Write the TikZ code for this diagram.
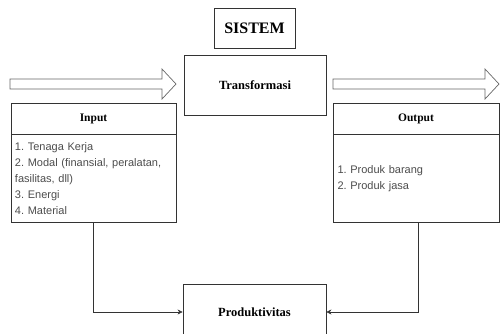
\documentclass[tikz,border=0pt]{standalone}
\usepackage{fontspec}
\setmainfont{Liberation Serif}
\setsansfont{Liberation Sans}
\usetikzlibrary{
  arrows.meta,
  positioning
}
\frenchspacing
\tikzset{
  box/.style={
    draw=black!80,
    line width=0.8pt,
    inner sep=0pt
  },
  heading/.style={
    box,
    font=\bfseries\fontsize{11.5}{13}\selectfont
  },
  listbox/.style={
    box,
    minimum width=165pt,
    minimum height=88pt,
    inner xsep=4pt,
    text width=157pt,
    align=left,
    text=black!70,
    font=\sffamily\fontsize{11}{16}\selectfont
  },
  blockarrow/.style={
    draw=black!60,
    line width=0.7pt,
    line join=miter
  },
  link/.style={
    draw=black!80,
    line width=0.6pt,
    -{Stealth[length=5pt,width=5pt]}
  }
}

\begin{document}
\begin{tikzpicture}[x=1pt,y=-1pt]
  \useasboundingbox (0,0) rectangle (501,333);
  \clip (0,0) rectangle (501,333);

  % system and process
  \node[box, minimum width=81pt, minimum height=40pt,
    font=\bfseries\fontsize{16}{18}\selectfont] (sistem) at (254.5,28) {SISTEM};
  \node[box, minimum width=142pt, minimum height=60pt,
    font=\bfseries\fontsize{12.5}{15}\selectfont] (transformasi) at (255,85) {Transformasi};

  % input side
  \node[heading, minimum width=165pt, minimum height=31pt] (inputhead) at (93.5,118.5) {Input};
  \node[listbox, below=0pt of inputhead] (inputbody) {%
    1. Tenaga Kerja\\
    2. Modal (finansial, peralatan,\\
    fasilitas, dll)\\
    3. Energi\\
    4. Material};

  % output side
  \node[heading, minimum width=166pt, minimum height=31pt] (outputhead) at (416,118.5) {Output};
  \node[listbox, minimum width=166pt, below=0pt of outputhead] (outputbody) {%
    1. Produk barang\\
    2. Produk jasa};

  % result
  \node[box, minimum width=143pt, minimum height=56pt,
    font=\bfseries\fontsize{12.5}{15}\selectfont] (produktivitas) at (254.5,312) {Produktivitas};

  % block arrows
  \draw[blockarrow] (10,79) -- (162,79) -- (162,69) -- (176,84) -- (162,99) -- (162,89) -- (10,89) -- cycle;
  \draw[blockarrow] (333,79) -- (485,79) -- (485,69) -- (499,84) -- (485,99) -- (485,89) -- (333,89) -- cycle;

  % connectors
  \draw[link] (inputbody.south) |- (produktivitas.west);
  \draw[link] ([xshift=2pt]outputbody.south) |- (produktivitas.east);
\end{tikzpicture}
\end{document}
